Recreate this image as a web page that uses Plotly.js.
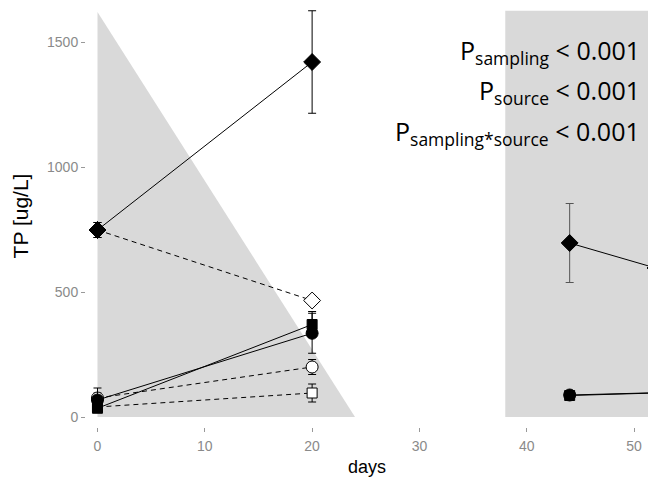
<!DOCTYPE html>
<html>
<head>
<meta charset="utf-8">
<script src="https://cdn.plot.ly/plotly-3.0.1.min.js"></script>
<style>html,body{margin:0;padding:0;background:#fff;}#chart{width:648px;height:477px;}</style>
</head>
<body>
<div id="chart"></div>
<script>
// Shaded periods (days, TP)
var shadeTriangleDays = [0, 0, 24, 0];
var shadeTriangleTP = [0, 1620, 0, 0];
var shadeRectDays = [38, 38, 60, 60, 38];
var shadeRectTP = [0, 1625, 1625, 0, 0];

// Phase 1 sampling days
var days1 = [0, 20];
// Phase 2 sampling days
var days2 = [44, 52];

// Filled diamond series
var fDiamond1 = [748, 1420];
var fDiamond1Err = [30, 205];
var fDiamond2 = [696, 596];
var fDiamond2Err = [158, 60];
// Open diamond series
var oDiamond1 = [748, 466];
var oDiamond1Err = [30, 10];
// Filled circle series
var fCircle1 = [68, 335];
var fCircle1Err = [48, 80];
var fCircle2 = [88, 97];
var fCircle2Err = [15, 15];
// Filled square series
var fSquare1 = [35, 370];
var fSquare1Err = [15, 52];
var fSquare2 = [86, 96];
var fSquare2Err = [12, 12];
// Open circle series
var oCircle1 = [76, 200];
var oCircle1Err = [20, 30];
// Open square series
var oSquare1 = [40, 96];
var oSquare1Err = [10, 36];

var yTicks = [0, 500, 1000, 1500];
var xTicks = [0, 10, 20, 30, 40, 50];

function series(x, y, err, symbol, filled, dashed, size, errColor) {
  return {
    type: 'scatter', mode: 'lines+markers', x: x, y: y,
    line: {color: '#000', width: 1, dash: dashed ? '5px,4px' : 'solid'},
    marker: {symbol: symbol, size: size, color: filled ? '#000' : '#fff', line: {color: '#000', width: 1}},
    error_y: {type: 'data', array: err, visible: true, color: errColor || '#000', thickness: 1, width: 4},
    showlegend: false, hoverinfo: 'skip'
  };
}

var data = [
  {type: 'scatter', mode: 'lines', x: shadeTriangleDays, y: shadeTriangleTP, fill: 'toself', fillcolor: '#d9d9d9', line: {width: 0, color: 'rgba(0,0,0,0)'}, showlegend: false, hoverinfo: 'skip'},
  {type: 'scatter', mode: 'lines', x: shadeRectDays, y: shadeRectTP, fill: 'toself', fillcolor: '#d9d9d9', line: {width: 0, color: 'rgba(0,0,0,0)'}, showlegend: false, hoverinfo: 'skip'},
  series(days1, oSquare1, oSquare1Err, 'square', false, true, 10),
  series(days1, oCircle1, oCircle1Err, 'circle', false, true, 12),
  series(days1, oDiamond1, oDiamond1Err, 'diamond', false, true, 13),
  series(days1, fSquare1, fSquare1Err, 'square', true, false, 10),
  series(days1, fCircle1, fCircle1Err, 'circle', true, false, 12),
  series(days1, fDiamond1, fDiamond1Err, 'diamond', true, false, 13),
  series(days2, fSquare2, fSquare2Err, 'square', true, false, 10, '#444'),
  series(days2, fCircle2, fCircle2Err, 'circle', true, false, 12, '#444'),
  series(days2, fDiamond2, fDiamond2Err, 'diamond', true, false, 13, '#555')
];

var pFont = {family: 'Open Sans, sans-serif', size: 25, color: '#000'};
var layout = {
  width: 648, height: 477,
  margin: {l: 86, r: 0, t: 5, b: 50},
  paper_bgcolor: '#fff', plot_bgcolor: '#fff',
  font: {family: 'Liberation Sans, Arial, sans-serif'},
  xaxis: {
    range: [-1.07, 51.3], tickvals: xTicks, ticktext: xTicks.map(String),
    ticks: 'outside', ticklen: 4, tickcolor: '#999', tickwidth: 1,
    ticklabelstandoff: 2,
    showgrid: false, zeroline: false, showline: false,
    tickfont: {size: 14, color: '#8a8a8a'},
    title: {text: 'days', font: {size: 18, color: '#000'}, standoff: 9}
  },
  yaxis: {
    range: [-40, 1648], tickvals: yTicks, ticktext: yTicks.map(String),
    ticks: 'outside', ticklen: 4, tickcolor: '#999', tickwidth: 1,
    showgrid: false, zeroline: false, showline: false,
    tickfont: {size: 14, color: '#8a8a8a'},
    title: {text: 'TP [ug/L]', font: {size: 21, color: '#000'}, standoff: 12}
  },
  annotations: [
    {xref: 'paper', yref: 'paper', x: 0.99, y: 0.89, xanchor: 'right', yanchor: 'middle', showarrow: false, align: 'right', font: pFont, text: 'P<sub>sampling</sub> < 0.001'},
    {xref: 'paper', yref: 'paper', x: 0.99, y: 0.795, xanchor: 'right', yanchor: 'middle', showarrow: false, align: 'right', font: pFont, text: 'P<sub>source</sub> < 0.001'},
    {xref: 'paper', yref: 'paper', x: 0.99, y: 0.697, xanchor: 'right', yanchor: 'middle', showarrow: false, align: 'right', font: pFont, text: 'P<sub>sampling*source</sub> < 0.001'}
  ]
};

Plotly.newPlot('chart', data, layout, {displayModeBar: false, staticPlot: true});
</script>
</body>
</html>
